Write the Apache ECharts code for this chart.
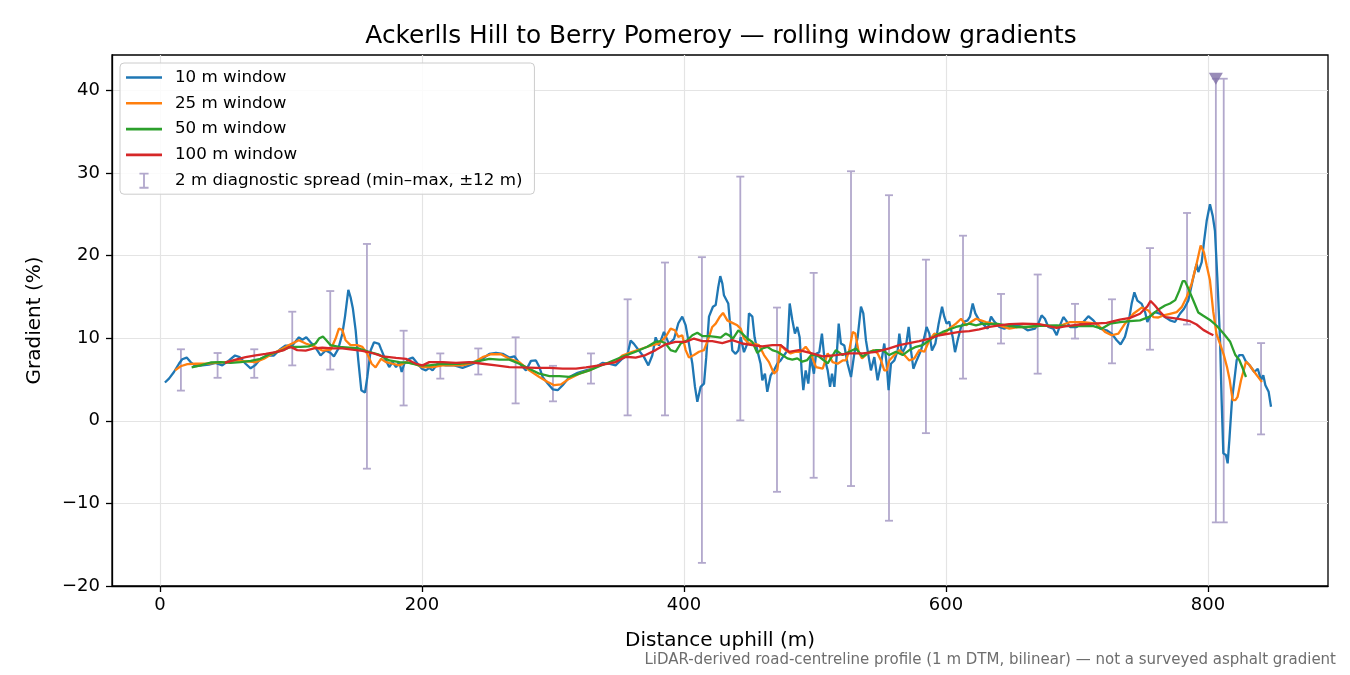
<!DOCTYPE html>
<html>
<head>
<meta charset="utf-8">
<title>Ackerlls Hill to Berry Pomeroy — rolling window gradients</title>
<script src="https://cdn.jsdelivr.net/npm/echarts@6/dist/echarts.min.js"></script>
<style>
  html, body { margin: 0; padding: 0; background: #fff; }
  #chart { width: 1350px; height: 675px; }
</style>
</head>
<body>
<div id="chart"></div>
<script>
// 10 m window
var dist10 = [3.8, 6.9, 10.7, 14.5, 17, 20.4, 23.4, 27.2, 32.3, 37.4, 42.5, 47.6, 52.7, 57.3, 60.8, 65.4, 69.2, 72.5, 76.8, 81.9, 87, 92.1, 95.9, 101, 106.1, 108.7, 111.7, 115, 118.8, 122.6, 126.5, 130.3, 132.8, 136.1, 139.2, 141.2, 143.8, 145.5, 147.3, 149.4, 151.4, 153.7, 156.5, 158.3, 160.8, 163.4, 167.2,
  168.7, 171.3, 175, 177.6, 180.2, 182.7, 184.5, 186.5, 190.3, 192.9, 196.7, 200, 203, 205.6, 208.1, 212, 218.3, 224.7, 231, 236.1, 243.8, 251.4, 256.5, 261.6, 266.7, 270.5, 274.3, 279.4, 283.2, 287, 289.6, 292.1, 296, 299.8, 303.6, 307.4, 312.5, 318.8, 325.2, 330.3,
  337.7, 342.7, 347.8, 352.9, 356.7, 359.3, 361.8, 365.6, 369.5, 372.8, 375.8, 378.4, 380.9, 384.7, 388.5, 392.4, 395.7, 398.7, 401.3, 403.8, 406.4, 408.4, 410.2, 412.7, 415.3, 417, 419.1, 422.1, 424.2, 426.2, 427.7, 429.3, 430.5, 431.8, 433.8, 435.6, 436.9, 439.4, 441.5, 443.3, 445.8, 448.3, 449.6, 452.2, 453.9, 456, 458.5, 459.8, 461.8, 463.6, 466.2, 468.7, 471.2, 473.8, 476.3, 478.9, 480.7, 482.7, 484.7, 486.5, 488.3, 489.8, 491.1, 492.9, 494.9, 496.7, 499.2,
  500.8, 503.3, 505.3, 507.1, 509.7, 511.5, 513, 514.8, 516.5, 518.1, 519.8, 522.4, 524.9, 527.5, 530, 532.6, 535.1, 536.9, 538.9, 541, 542.7, 545.3, 547.8, 550.4, 552.9, 554.7, 556.2, 558, 560.6, 563.1, 564.4, 566.4, 569.5, 571.5, 573.3, 575.1, 577.6, 580.9, 583.5, 585.2, 587.3, 589.3, 591.9, 594.4, 597, 598.7, 600.5, 602.5, 605.1, 606.9, 608.9, 611.5, 614, 616.5, 618.3, 620.4, 622.4, 625.4, 629.3, 631.8, 634.4, 636.9, 640.7, 644.5, 648.3, 653.4, 658.5, 662.3,
  667.9, 670.5, 673, 675.5, 678.1, 681.9, 684.5, 687, 689.6, 691.6, 694.7, 699.7, 704.8, 708.7, 712.5, 717.6, 722.6, 726.5, 730.3, 733.3, 736.6, 739.2, 741.7, 743.8, 746.1, 749.4, 752, 753.7, 756.2, 759.5, 763.4, 767.2, 771, 774.8, 778.6, 781.7, 785, 788.3, 791.3, 792.6, 795.2, 796.9, 799, 801.5, 803.6, 805.3, 807.1, 809.2, 810.4, 811.7, 813.7, 815, 816.3, 818.3, 820.1, 821.9, 823.9, 826.5, 829, 831.6, 835.4, 838, 840.5, 842.2, 843.8, 846.3, 848.1];
var grad10 = [4.63, 5.1, 5.9, 6.9, 7.45, 7.65, 7.1, 6.6, 6.7, 6.8, 7.0, 6.7, 7.3, 7.9, 7.7, 6.9, 6.35, 6.7, 7.5, 7.9, 7.9, 8.7, 9.1, 9.1, 10.1, 9.8, 10.1, 9.5, 8.85, 7.9, 8.5, 8.2, 7.8, 8.7, 10.5, 12.55, 15.85, 14.95, 13.55, 10.9, 7.3, 3.7, 3.4, 5.3, 8.5, 9.5, 9.3,
  8.7, 7.7, 6.5, 7.1, 6.5, 7.1, 5.9, 6.9, 7.5, 7.65, 6.9, 6.3, 6.1, 6.4, 6.1, 6.9, 6.7, 6.7, 6.4, 6.7, 7.2, 8.1, 8.2, 8.1, 7.65, 7.8, 7.0, 6.1, 7.25, 7.3, 6.5, 5.3, 4.5, 3.8, 3.7, 4.3, 5.3, 5.8, 6.1, 6.3,
  7.0, 6.9, 6.7, 7.5, 7.9, 9.7, 9.3, 8.5, 7.7, 6.7, 7.9, 10.1, 9.1, 10.75, 9.3, 9.9, 11.8, 12.6, 11.55, 9.3, 6.9, 4.1, 2.3, 4.1, 4.5, 7.7, 12.6, 13.8, 14.0, 16.2, 17.5, 16.6, 15.2, 15.4, 14.2, 11.0, 8.5, 8.1, 8.5, 10.1, 8.3, 9.3, 13.0, 12.6, 10.1, 8.5, 6.9, 4.9, 5.7, 3.5, 5.5, 6.1, 6.9, 7.3, 7.9, 8.5, 14.2, 12.2, 10.55, 11.35, 10.1, 6.1, 3.7, 6.1, 4.5, 7.7, 5.7,
  8.1, 8.3, 10.55, 7.7, 6.1, 4.1, 5.7, 4.1, 7.7, 11.75, 9.35, 9.1, 6.9, 5.3, 8.1, 10.15, 13.8, 13.0, 9.75, 7.7, 6.1, 7.7, 4.9, 6.9, 9.35, 6.9, 3.7, 6.9, 7.3, 8.5, 10.55, 8.1, 9.1, 11.35, 8.5, 6.3, 7.3, 8.5, 10.15, 11.35, 10.55, 8.5, 9.35, 11.75, 13.8, 12.6, 11.75, 12.0, 10.15, 8.3, 9.75, 11.35, 12.0, 12.15, 12.6, 14.2, 13.0, 12.15, 11.55, 11.15, 12.6, 12.0, 11.35, 11.15, 11.35, 11.55, 11.35, 10.95,
  11.15, 11.75, 12.75, 12.35, 11.35, 11.15, 10.35, 11.55, 12.55, 12.15, 11.35, 11.35, 11.95, 12.65, 12.15, 11.15, 10.95, 10.55, 9.75, 9.25, 10.15, 11.75, 14.15, 15.55, 14.55, 14.15, 13.15, 11.95, 12.75, 13.15, 12.95, 12.55, 12.15, 11.95, 12.95, 13.55, 14.55, 17, 19, 18, 19.2, 21.6, 24.2, 26.2, 24.8, 23, 17.4, 9.75, 2.5, -3.95, -4.15, -5.15, -2.35, 2.5, 4.9, 7.35, 7.95, 7.95, 7.15, 6.75, 5.9, 6.3, 4.9, 5.5, 4.3, 3.5, 1.7];

// 25 m window
var dist25 = [11.5, 15.8, 20.9, 27.2, 34.9, 42.5, 50.1, 57.8, 65.4, 73, 79.4, 85.8, 93.4, 99.7, 106.1, 111.2, 117.6, 123.9, 130.3, 134.1, 136.6, 139.2, 141.7, 145.5, 150.6, 154.5, 158.3, 161.6, 164.6, 168.7, 172.5, 177.6, 182.7, 187.8, 194.1, 200.5, 208.1, 215.8, 223.4, 231, 238.7, 246.3, 252.7, 260.3, 266.7, 274.3, 281.9, 289.6, 296, 301, 306.1, 312.5, 320.1, 327.7, 335.4, 340, 347.8, 352.9, 360.6, 368.2, 375.8, 380.9, 386, 389.8, 393.1, 395.7, 398.7, 401.3, 403.8, 407.6, 411.5, 415.3, 419.1, 421.6, 424.2, 427.2, 429.8, 433.1, 436.9, 440.7, 443.3, 445.8, 449.6, 453.4, 457.3, 461.1, 464.9, 468.7, 471.2, 473.8, 477.6, 481.4, 485.2, 489.1, 492.9, 496.7, 500.8, 505.9, 509.7, 513.5, 517.3, 521.1, 523.7, 526.2, 528.8, 530.8, 533.3, 535.9, 540.2, 544.5, 547.8, 550.4, 552.9, 554.7, 556.7, 560.6, 564.4, 568.2, 572, 575.8, 579.6, 583.5, 587.3, 591.1, 594.9, 598.7, 602.5, 607.6, 611.5, 615.3, 619.1, 622.9, 626.7, 630.5, 635.6, 640.7, 648.3, 656, 663.6, 674.3, 684.5, 694.7, 704.8, 715, 721.4, 726.5, 731.6, 736.6, 743, 749.4, 754.5, 758.3, 762.1, 766, 771, 776.1, 779.9, 783.7, 787.5, 791.3, 794.4, 796.9, 799, 801.5, 804, 806.5, 809, 812, 814.5, 816.5, 818.8, 820.9, 822.6, 825.2, 829, 831.6, 835.4, 839.2, 841.2];
var grad25 = [6.1, 6.6, 6.85, 6.9, 6.9, 7.0, 7.1, 7.3, 7.2, 7.1, 7.5, 8.1, 8.7, 9.25, 9.75, 9.35, 9.0, 8.5, 8.6, 9.95, 11.15, 11.0, 9.75, 9.15, 9.15, 8.95, 8.1, 6.9, 6.45, 7.5, 7.1, 6.9, 6.7, 7.1, 6.9, 6.5, 6.5, 6.7, 6.7, 6.7, 7.0, 7.7, 8.05, 8.05, 7.5, 7.1, 6.1, 5.3, 4.7, 4.3, 4.4, 5.1, 5.7, 6.1, 6.7, 6.9, 7.1, 7.9, 8.35, 8.75, 9.15, 9.35, 10.15, 11.15, 10.95, 10.15, 10.35, 8.55, 7.65, 7.95, 8.35, 8.55, 10.15, 11.35, 11.75, 12.55, 13.05, 12.15, 11.85, 11.55, 11.15, 9.95, 9.35, 9.35, 9.15, 7.95, 7.1, 5.7, 6.1, 9.15, 8.55, 8.15, 8.35, 8.35, 8.95, 8.15, 6.5, 6.3, 8.15, 7.1, 6.9, 7.3, 7.3, 8.55, 10.75, 10.55, 8.35, 7.55, 8.15, 8.55, 8.15, 7.3, 6.1, 6.1, 7.3, 7.95, 8.55, 7.95, 7.3, 7.55, 8.55, 8.35, 9.75, 10.55, 10.35, 10.55, 11.15, 11.75, 12.35, 11.55, 11.95, 12.35, 12.15, 11.95, 11.75, 11.55, 11.15, 11.35, 11.35, 11.55, 11.35, 11.95, 11.95, 11.75, 10.75, 10.35, 10.55, 11.75, 12.95, 13.7, 13.35, 12.55, 12.5, 12.75, 12.95, 13.15, 13.75, 14.95, 16.6, 19.0, 21.2, 20.4, 18.8, 17.0, 13.2, 10.5, 9.4, 8.0, 6.5, 5.0, 2.5, 2.5, 2.9, 4.9, 7.15, 6.75, 5.9, 5.1, 4.7];

// 50 m window
var dist50 = [24.2, 31, 38.7, 46.3, 53.9, 61.6, 69.2, 76.8, 84.5, 92.1, 99.7, 107.4, 113.7, 118.8, 121.4, 124.4, 127, 130.3, 136.6, 144.3, 151.9, 159.5, 167.2, 175, 182.7, 190.3, 198, 205.6, 213.2, 220.9, 228.5, 236.1, 243.8, 251.4, 259, 266.7, 274.3, 281.9, 289.6, 297.3, 304.8, 312.5, 320.1, 327.7, 335.4, 340.2, 352.9, 363.1, 372, 378.4, 382.2, 386, 389.8, 393.6, 397.5, 402.5, 406.4, 410.2, 414, 419.1, 424.2, 428, 431.8, 434.4, 437.4, 441.5, 444.5, 448.3, 452.2, 456, 459.8, 463.6, 467.4, 471.2, 475.1, 478.9, 482.7, 486.5, 490.3, 494.1, 497, 500.5, 503.3, 509.7, 516, 521.1, 526.2, 531.3, 536.4, 541.5, 546.6, 551.7, 556.7, 561.8, 566.9, 572, 577.1, 582.2, 587.3, 592.4, 597.5, 602.5, 607.6, 612.7, 617.8, 622.9, 628, 633.1, 638.2, 645.8, 653.4, 661.1, 671.2, 684.5, 694.7, 704.8, 712.5, 718.8, 725.2, 732.8, 740.5, 748.1, 755.5, 762.5, 767.2, 771, 775, 778.1, 780.7, 782.4, 785, 788.8, 792.6, 796.4, 801.5, 806.6, 811.7, 816.8, 820.9, 823.9, 826.5, 829];
var grad50 = [6.45, 6.7, 7.05, 7.1, 7.0, 7.1, 7.25, 7.5, 8.1, 8.45, 8.95, 8.95, 9.0, 9.35, 9.95, 10.2, 9.75, 9.15, 8.95, 8.85, 8.75, 8.35, 8.0, 7.3, 7.1, 7.0, 6.7, 6.7, 6.85, 6.85, 6.9, 7.0, 7.25, 7.5, 7.4, 7.4, 6.9, 6.3, 5.7, 5.4, 5.4, 5.3, 5.7, 6.1, 6.6, 6.9, 7.75, 8.35, 8.95, 9.55, 9.65, 9.35, 8.55, 8.35, 9.35, 9.75, 10.35, 10.65, 10.25, 10.25, 10.15, 10.05, 10.55, 10.35, 9.95, 10.95, 10.55, 9.95, 9.55, 8.2, 8.75, 8.95, 8.55, 8.35, 7.95, 7.55, 7.4, 7.55, 7.15, 7.35, 7.95, 7.95, 7.75, 6.95, 8.55, 7.95, 8.35, 8.75, 7.75, 8.35, 8.55, 8.55, 7.95, 8.35, 7.95, 8.55, 8.95, 9.15, 9.75, 10.35, 10.75, 11.05, 11.35, 11.55, 11.75, 11.55, 11.75, 11.7, 11.75, 11.55, 11.35, 11.35, 11.5, 11.55, 11.45, 11.45, 11.45, 11.15, 11.75, 11.95, 12.05, 12.15, 12.6, 13.5, 13.95, 14.2, 14.6, 15.75, 16.9, 16.9, 16.0, 14.55, 13.1, 12.7, 12.2, 11.5, 10.6, 9.6, 7.95, 7.35, 6.35, 5.3];

// 100 m window
var dist100 = [49.6, 57.8, 65.4, 73, 80.7, 88.3, 94.7, 98.5, 101, 104.8, 111.2, 117.6, 123.9, 131.6, 139.2, 146.8, 154.5, 162.1, 170, 180.2, 187.8, 195.4, 200.5, 205.6, 215.8, 226, 236.1, 246.3, 256.5, 266.7, 276.8, 287, 297.2, 307.4, 317.6, 325.2, 335.4, 347.8, 355.5, 363.1, 370.7, 378.4, 386, 393.6, 401.3, 407.6, 414, 421.6, 429.3, 436.9, 444.5, 452.2, 459.8, 467.4, 473.8, 480.2, 487.8, 495.5, 505.9, 516, 526.2, 536.4, 546.6, 556.7, 564.4, 572, 579.6, 587.3, 594.9, 602.5, 610.2, 617.8, 625.4, 633.1, 640.7, 648.3, 658.5, 671.2, 684.5, 692.1, 702.3, 712.5, 722.6, 732.8, 740.5, 748.1, 753.7, 756.2, 759.5, 763.4, 767.2, 772.3, 778.6, 786.3, 791.3, 796.4, 801, 804.1];
var grad100 = [7.0, 7.4, 7.7, 7.9, 8.1, 8.3, 8.55, 8.9, 8.85, 8.55, 8.5, 8.75, 8.85, 8.75, 8.75, 8.6, 8.45, 8.2, 7.8, 7.6, 7.5, 6.9, 6.7, 7.1, 7.1, 7.0, 7.1, 6.9, 6.7, 6.5, 6.45, 6.4, 6.4, 6.3, 6.3, 6.45, 6.7, 7.1, 7.75, 7.65, 7.95, 8.55, 9.25, 9.55, 9.55, 9.95, 9.65, 9.65, 9.4, 9.75, 9.35, 9.15, 9.0, 9.15, 9.15, 8.35, 8.55, 8.25, 7.8, 7.95, 8.15, 8.15, 8.35, 8.75, 9.15, 9.4, 9.65, 9.95, 10.35, 10.55, 10.75, 10.85, 11.05, 11.35, 11.55, 11.7, 11.75, 11.7, 11.25, 11.45, 11.65, 11.75, 11.85, 12.25, 12.45, 12.95, 13.85, 14.5, 13.95, 13.2, 12.55, 12.45, 12.3, 12.05, 11.65, 11.0, 10.6, 10.35];

// 2 m diagnostic spread (min–max over ±12 m)
var spreadDist = [16, 44, 72, 101, 130, 158, 186, 214, 243, 271.5, 300, 329, 357, 385.5, 413.7, 443, 471, 499, 527.5, 556.5, 584.7, 613, 642, 670, 698.5, 726.7, 755.7, 784, 806, 812, 840.5];
var spreadMin = [3.65, 5.2, 5.2, 6.7, 6.2, -5.8, 1.85, 5.1, 5.6, 2.1, 2.35, 4.5, 0.65, 0.65, -17.2, 0.04, -8.6, -6.9, -7.9, -12.1, -1.5, 5.1, 9.35, 5.7, 9.95, 6.95, 8.6, 11.65, -12.3, -12.3, -1.65];
var spreadMax = [8.65, 8.2, 8.65, 13.2, 15.7, 21.4, 10.9, 8.15, 8.75, 10.1, 6.65, 8.15, 14.7, 19.15, 19.8, 29.55, 13.7, 17.9, 30.2, 27.3, 19.5, 22.4, 15.35, 17.7, 14.15, 14.7, 20.9, 25.15, 41.4, 41.4, 9.4];

// clipped peak marker
var peakDist = [806];
var peakGrad = [41.4];

var xTicks = [0, 200, 400, 600, 800];
var yTicks = [-20, -10, 0, 10, 20, 30, 40];

function zip(xs, ys) {
  var out = [];
  for (var i = 0; i < xs.length; i++) {
    out.push([xs[i], ys[i]]);
  }
  return out;
}

var spreadData = [];
for (var i = 0; i < spreadDist.length; i++) {
  spreadData.push([spreadDist[i], spreadMin[i], spreadMax[i]]);
}

var FONT = 'DejaVu Sans';
var spreadColor = '#b2a8cc';

function lineSeries(name, xs, ys, color) {
  return {
    name: name,
    type: 'line',
    data: zip(xs, ys),
    symbol: 'none',
    smooth: false,
    z: 3,
    lineStyle: { color: color, width: 2.3 },
    itemStyle: { color: color }
  };
}

var chart = echarts.init(document.getElementById('chart'));

chart.setOption({
  backgroundColor: '#fff',
  animation: false,
  textStyle: { fontFamily: FONT },
  title: {
    text: 'Ackerlls Hill to Berry Pomeroy — rolling window gradients',
    left: 716,
    top: 19,
    textAlign: 'center',
    textStyle: { fontFamily: FONT, fontSize: 24.8, fontWeight: 'normal', color: '#000' }
  },
  grid: {
    left: 112, right: 22, top: 55, bottom: 89,
    show: true, borderColor: '#000', borderWidth: 1.3, backgroundColor: 'transparent'
  },
  legend: {
    orient: 'vertical',
    left: 120,
    top: 63,
    itemWidth: 36,
    itemHeight: 16,
    itemGap: 8.8,
    padding: [6, 12, 5, 6],
    backgroundColor: 'rgba(255,255,255,0.85)',
    borderColor: '#cccccc',
    borderWidth: 1,
    borderRadius: 4,
    textStyle: { fontFamily: FONT, fontSize: 16.7, color: '#000', padding: [0, 0, 0, 8] },
    data: [
      { name: '10 m window', icon: 'path://M0,6.7H36V9.3H0Z' },
      { name: '25 m window', icon: 'path://M0,6.7H36V9.3H0Z' },
      { name: '50 m window', icon: 'path://M0,6.7H36V9.3H0Z' },
      { name: '100 m window', icon: 'path://M0,6.7H36V9.3H0Z' },
      { name: '2 m diagnostic spread (min–max, ±12 m)', icon: 'path://M14,1H22V2.6H18.8V13.4H22V15H14V13.4H17.2V2.6H14Z' }
    ]
  },
  xAxis: {
    type: 'value',
    min: -36.6,
    max: 891.6,
    splitNumber: 5,
    name: 'Distance uphill (m)',
    nameLocation: 'middle',
    nameGap: 45,
    nameTextStyle: { fontFamily: FONT, fontSize: 20, color: '#000' },
    axisLine: { show: true, onZero: false, lineStyle: { color: '#000', width: 1.3 } },
    axisTick: { show: true, inside: false, length: 6, lineStyle: { color: '#000', width: 1.3 }, customValues: xTicks },
    axisLabel: { fontFamily: FONT, fontSize: 18, color: '#000', margin: 10, customValues: xTicks },
    splitLine: { show: true, lineStyle: { color: '#e4e4e4', width: 1.2 } }
  },
  yAxis: {
    type: 'value',
    min: -20,
    max: 44.27,
    interval: 10,
    name: 'Gradient (%)',
    nameLocation: 'middle',
    nameGap: 67,
    nameTextStyle: { fontFamily: FONT, fontSize: 20, color: '#000' },
    axisLine: { show: true, onZero: false, lineStyle: { color: '#000', width: 1.3 } },
    axisTick: { show: true, inside: false, length: 6, lineStyle: { color: '#000', width: 1.3 }, customValues: yTicks },
    axisLabel: {
      fontFamily: FONT, fontSize: 18, color: '#000', margin: 12, customValues: yTicks,
      formatter: function (v) { return v < 0 ? '\u2212' + Math.abs(v) : String(v); }
    },
    splitLine: { show: true, lineStyle: { color: '#e4e4e4', width: 1.2 } }
  },
  graphic: [
    {
      type: 'text',
      right: 14,
      top: 653,
      style: {
        text: 'LiDAR-derived road-centreline profile (1 m DTM, bilinear) — not a surveyed asphalt gradient',
        fontFamily: FONT,
        fontSize: 15,
        fill: '#6e6e6e'
      }
    }
  ],
  series: [
    {
      name: '2 m diagnostic spread (min–max, ±12 m)',
      type: 'custom',
      z: 2,
      itemStyle: { color: spreadColor },
      encode: { x: 0, y: [1, 2] },
      data: spreadData,
      renderItem: function (params, api) {
        var x = api.value(0);
        var lo = api.coord([x, api.value(1)]);
        var hi = api.coord([x, api.value(2)]);
        var cap = 4;
        var st = { stroke: spreadColor, lineWidth: 1.8 };
        return {
          type: 'group',
          children: [
            { type: 'line', shape: { x1: lo[0], y1: lo[1], x2: hi[0], y2: hi[1] }, style: st },
            { type: 'line', shape: { x1: lo[0] - cap, y1: lo[1], x2: lo[0] + cap, y2: lo[1] }, style: st },
            { type: 'line', shape: { x1: hi[0] - cap, y1: hi[1], x2: hi[0] + cap, y2: hi[1] }, style: st }
          ]
        };
      }
    },
    lineSeries('10 m window', dist10, grad10, '#1f77b4'),
    lineSeries('25 m window', dist25, grad25, '#ff7f0e'),
    lineSeries('50 m window', dist50, grad50, '#2ca02c'),
    lineSeries('100 m window', dist100, grad100, '#d62728'),
    {
      name: 'peak',
      type: 'scatter',
      data: zip(peakDist, peakGrad),
      symbol: 'triangle',
      symbolRotate: 180,
      symbolSize: [14, 12],
      z: 5,
      itemStyle: { color: '#7f6fa6' }
    }
  ]
});
</script>
</body>
</html>
